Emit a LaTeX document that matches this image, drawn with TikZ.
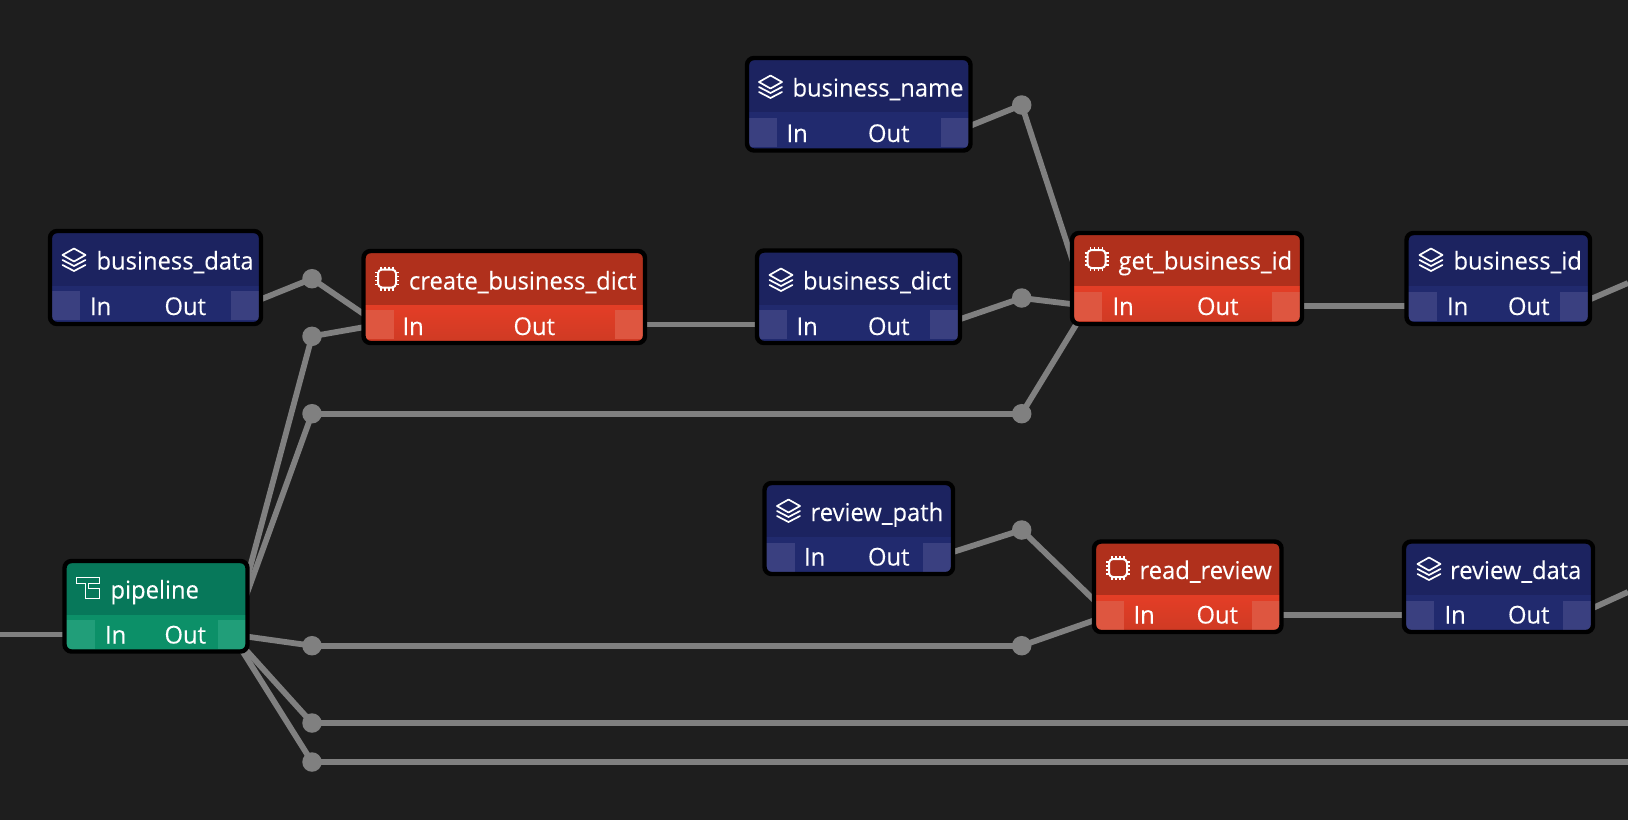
\documentclass[tikz,border=0pt]{standalone}
\usepackage{fontspec}
\setmainfont[FakeStretch=0.97,FakeBold=0.15]{Open Sans}
\usetikzlibrary{backgrounds}
\definecolor{canvas}{HTML}{1E1E1E}
\definecolor{wire}{HTML}{808080}
\definecolor{blueH}{HTML}{1C2360}
\definecolor{blueF}{HTML}{212A6E}
\definecolor{blueFb}{HTML}{212A6E}
\definecolor{blueP}{HTML}{3A4080}
\definecolor{redH}{HTML}{B0301C}
\definecolor{redF}{HTML}{E43E26}
\definecolor{redFb}{HTML}{CE3A24}
\definecolor{redP}{HTML}{DE5640}
\definecolor{greenH}{HTML}{07785A}
\definecolor{greenF}{HTML}{0C9068}
\definecolor{greenFb}{HTML}{0C9068}
\definecolor{greenP}{HTML}{219E79}
\tikzset{
  junction/.style={circle,fill=wire,inner sep=0pt,minimum size=19.5pt},
  wireline/.style={draw=wire,line width=5.8pt},
  label/.style={anchor=base west,inner sep=0pt,outer sep=0pt,text=white,font=\fontsize{24.5}{28}\selectfont},
  icon/.style={draw=white,line width=1.7pt,line join=round,line cap=round},
  portbox/.style={inner sep=0pt,outer sep=0pt,anchor=north west,minimum width=29pt,minimum height=29pt},
}
% name, x1,y1,x2,y2, split, colour prefix
\newcommand{\gbody}[7]{%
  \path[fill=#7H,rounded corners=7pt] (#2,#3) rectangle (#4,#5);
  \begin{scope}
    \clip[rounded corners=7pt] (#2,#3) rectangle (#4,#5);
    \shade[top color=#7F,bottom color=#7Fb] (#2,#6) rectangle (#4,#5);
    \node[portbox,fill=#7P] (#1In) at (#2+1,#6+5) {};
    \node[portbox,fill=#7P] (#1Out) at (#4-30,#6+5) {};
  \end{scope}
  \draw[black,line width=4.4pt,rounded corners=7pt] (#2,#3) rectangle (#4,#5);
}
\newcommand{\ilayers}[2]{\begin{scope}[shift={(#1,#2)}]
  \draw[icon] (0,7) -- (11.5,0.5) -- (23,7) -- (11.5,13.5) -- cycle;
  \draw[icon] (0,12) -- (11.5,18) -- (23,12);
  \draw[icon] (0,17) -- (11.5,23) -- (23,17);
\end{scope}}
\newcommand{\ichip}[2]{\begin{scope}[shift={(#1,#2)}]
  \draw[icon,rounded corners=4pt,line width=2pt] (3,3) rectangle (21,21);
  \foreach \p in {6,10,14,18}{
    \draw[white,line width=1.5pt] (\p,0) -- (\p,3);
    \draw[white,line width=1.5pt] (\p,21) -- (\p,24);
    \draw[white,line width=1.5pt] (0,\p) -- (3,\p);
    \draw[white,line width=1.5pt] (21,\p) -- (24,\p);
  }
\end{scope}}
\newcommand{\ipipe}[2]{\begin{scope}[shift={(#1,#2)}]
  \draw[icon,line cap=butt,line join=miter] (0,0) -- (23,0) -- (23,6) -- (12,6) -- (12,11) -- (23,11) -- (23,21) -- (9,21) -- (9,6) -- (0,6) -- cycle;
\end{scope}}
\newcommand{\glabels}[7]{%
  \node[label] (#1Title) at (#2,#3) {#4};
  \node[label] (#1InT) at (#5,#6) {In};
  \node[label] (#1OutT) at (#7,#6) {Out};
}
\begin{document}
\begin{tikzpicture}[x=1pt,y=-1pt]
\useasboundingbox (0,0) rectangle (1628,820);
% bodies
\gbody{bdata}{50}{231}{261}{324}{286}{blue}
\gbody{create}{363.5}{251}{645}{343}{305}{red}
\gbody{bname}{747}{58}{970.5}{150.5}{112.5}{blue}
\gbody{bdict}{757}{250.5}{960}{343}{305}{blue}
\gbody{getid}{1072}{233}{1302}{324}{286.5}{red}
\gbody{bid}{1406.5}{233}{1590}{324}{286.5}{blue}
\gbody{rpath}{764.5}{483}{953}{574}{537.5}{blue}
\gbody{read}{1094}{541.5}{1281.5}{632}{595.5}{red}
\gbody{rdata}{1404}{541.5}{1593}{632}{595.5}{blue}
\gbody{pipe}{64.5}{561}{247.5}{651.5}{615}{green}
% junctions
\node[junction] (j1) at (312,278.7) {};
\node[junction] (j2) at (312,336.3) {};
\node[junction] (j3) at (312,413.7) {};
\node[junction] (j4) at (312,645.7) {};
\node[junction] (j5) at (312,723) {};
\node[junction] (j6) at (312,762) {};
\node[junction] (k1) at (1021.7,105) {};
\node[junction] (k2) at (1021.7,298) {};
\node[junction] (k3) at (1021.7,413.7) {};
\node[junction] (k4) at (1021.7,530) {};
\node[junction] (k5) at (1021.7,645.7) {};
\coordinate (w0) at (0,634.5);
\coordinate (e1) at (1628,283);
\coordinate (e2) at (1628,592);
\coordinate (e3) at (1628,723);
\coordinate (e4) at (1628,762);
\begin{pgfonlayer}{background}
\fill[canvas] (0,0) rectangle (1628,820);
\draw[wireline] (w0) -- (pipeIn.center);
\draw[wireline] (pipeOut.center) -- (j2.center);
\draw[wireline] (pipeOut.center) -- (j3.center);
\draw[wireline] (pipeOut.center) -- (j4.center);
\draw[wireline] (pipeOut.center) -- (j5.center);
\draw[wireline] (pipeOut.center) -- (j6.center);
\draw[wireline] (bdataOut.center) -- (j1.center);
\draw[wireline] (j1.center) -- (createIn.center);
\draw[wireline] (j2.center) -- (createIn.center);
\draw[wireline] (j3.center) -- (k3.center);
\draw[wireline] (k3.center) -- (getidIn.center);
\draw[wireline] (createOut.center) -- (bdictIn.center);
\draw[wireline] (bdictOut.center) -- (k2.center);
\draw[wireline] (k2.center) -- (getidIn.center);
\draw[wireline] (bnameOut.center) -- (k1.center);
\draw[wireline] (k1.center) -- (getidIn.center);
\draw[wireline] (getidOut.center) -- (bidIn.center);
\draw[wireline] (bidOut.center) -- (e1);
\draw[wireline] (rpathOut.center) -- (k4.center);
\draw[wireline] (k4.center) -- (readIn.center);
\draw[wireline] (j4.center) -- (k5.center);
\draw[wireline] (k5.center) -- (readIn.center);
\draw[wireline] (readOut.center) -- (rdataIn.center);
\draw[wireline] (rdataOut.center) -- (e2);
\draw[wireline] (j5.center) -- (e3);
\draw[wireline] (j6.center) -- (e4);
\end{pgfonlayer}
% icons
\ilayers{62.5}{248}
\ichip{375}{266.5}
\ilayers{759}{75}
\ilayers{769.5}{268}
\ichip{1084.5}{247}
\ilayers{1419.5}{248}
\ilayers{777}{499}
\ichip{1106}{556}
\ilayers{1417.5}{557}
\ipipe{76.5}{577.5}
% labels
\glabels{bdata}{96.5}{269.5}{business\_data}{90}{315}{164.5}
\glabels{create}{409}{289.5}{create\_business\_dict}{402.5}{335}{513.5}
\glabels{bname}{792.5}{96.5}{business\_name}{786.5}{142}{868}
\glabels{bdict}{803}{289.5}{business\_dict}{796.5}{335}{868}
\glabels{getid}{1118.5}{269.5}{get\_business\_id}{1112.5}{315}{1197}
\glabels{bid}{1453.5}{269.5}{business\_id}{1447}{315}{1508}
\glabels{rpath}{810.5}{521}{review\_path}{804}{565.5}{868}
\glabels{read}{1139.5}{579}{read\_review}{1133.5}{623.5}{1196.5}
\glabels{rdata}{1450}{579}{review\_data}{1444.5}{623.5}{1508}
\glabels{pipe}{110.5}{598.5}{pipeline}{105}{643.5}{164.5}
\end{tikzpicture}
\end{document}
